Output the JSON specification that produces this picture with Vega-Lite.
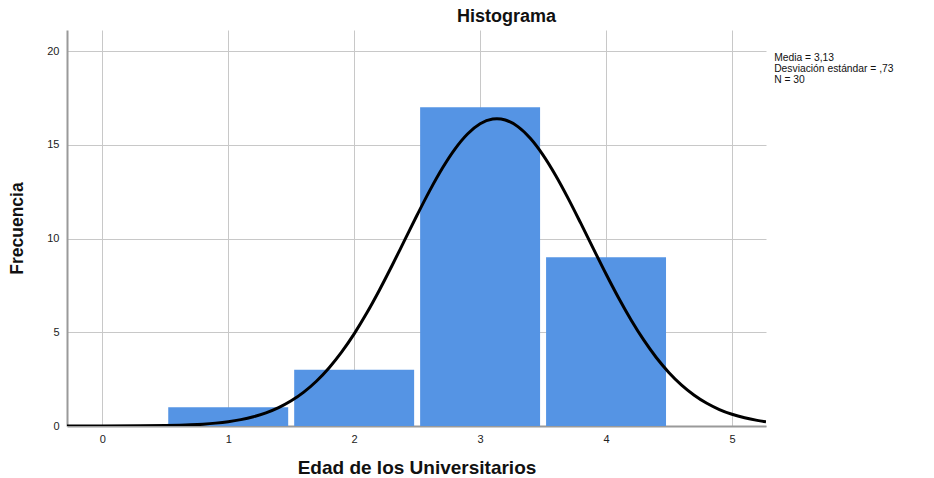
{
  "$schema": "https://vega.github.io/schema/vega-lite/v6.json",
  "width": 699,
  "height": 396,
  "autosize": {"type": "none"},
  "padding": {"left": 67, "top": 30, "right": 168, "bottom": 52},
  "background": "white",
  "config": {
    "font": "Liberation Sans",
    "view": {"stroke": null},
    "axis": {
      "grid": true,
      "gridColor": "#c8c8c8",
      "gridWidth": 1,
      "ticks": false,
      "domainColor": "#9a9a9a",
      "domainWidth": 2,
      "labelFont": "Liberation Sans",
      "labelFontSize": 11,
      "labelColor": "#222",
      "titleFont": "Liberation Sans",
      "titleFontWeight": "bold",
      "titleColor": "#111"
    }
  },
  "title": {
    "text": "Histograma",
    "font": "Liberation Sans",
    "fontSize": 18,
    "fontWeight": "bold",
    "color": "#111",
    "anchor": "middle",
    "dx": 90,
    "offset": 4
  },
  "datasets": {
    "bars": [
      {"start": 0.5, "end": 1.5, "count": 1},
      {"start": 1.5, "end": 2.5, "count": 3},
      {"start": 2.5, "end": 3.5, "count": 17},
      {"start": 3.5, "end": 4.5, "count": 9}
    ],
    "curve": [
      {"x": -0.28, "y": 0.0003},
      {"x": 0.0, "y": 0.0016},
      {"x": 0.3, "y": 0.0088},
      {"x": 0.5, "y": 0.0246},
      {"x": 0.7, "y": 0.0636},
      {"x": 0.8, "y": 0.0995},
      {"x": 0.9, "y": 0.153},
      {"x": 1.0, "y": 0.230},
      {"x": 1.1, "y": 0.340},
      {"x": 1.2, "y": 0.493},
      {"x": 1.3, "y": 0.702},
      {"x": 1.4, "y": 0.980},
      {"x": 1.5, "y": 1.344},
      {"x": 1.6, "y": 1.809},
      {"x": 1.7, "y": 2.388},
      {"x": 1.8, "y": 3.096},
      {"x": 1.9, "y": 3.938},
      {"x": 2.0, "y": 4.915},
      {"x": 2.1, "y": 6.023},
      {"x": 2.2, "y": 7.242},
      {"x": 2.3, "y": 8.546},
      {"x": 2.4, "y": 9.898},
      {"x": 2.5, "y": 11.252},
      {"x": 2.6, "y": 12.552},
      {"x": 2.7, "y": 13.743},
      {"x": 2.8, "y": 14.767},
      {"x": 2.9, "y": 15.572},
      {"x": 3.0, "y": 16.118},
      {"x": 3.1, "y": 16.371},
      {"x": 3.1333, "y": 16.388},
      {"x": 3.2, "y": 16.320},
      {"x": 3.3, "y": 15.967},
      {"x": 3.4, "y": 15.331},
      {"x": 3.5, "y": 14.448},
      {"x": 3.6, "y": 13.361},
      {"x": 3.7, "y": 12.129},
      {"x": 3.8, "y": 10.803},
      {"x": 3.9, "y": 9.446},
      {"x": 4.0, "y": 8.104},
      {"x": 4.1, "y": 6.824},
      {"x": 4.2, "y": 5.641},
      {"x": 4.3, "y": 4.576},
      {"x": 4.4, "y": 3.641},
      {"x": 4.5, "y": 2.845},
      {"x": 4.6, "y": 2.181},
      {"x": 4.7, "y": 1.642},
      {"x": 4.8, "y": 1.212},
      {"x": 4.9, "y": 0.879},
      {"x": 5.0, "y": 0.625},
      {"x": 5.1, "y": 0.436},
      {"x": 5.2, "y": 0.299},
      {"x": 5.27, "y": 0.227}
    ],
    "stats": [
      {"label": "Media = 3,13"}
    ]
  },
  "layer": [
    {
      "data": {"name": "bars"},
      "mark": {"type": "rect", "color": "#5594E4", "xOffset": 3, "x2Offset": -3},
      "encoding": {
        "x": {
          "field": "start",
          "type": "quantitative",
          "scale": {"domain": [-0.28, 5.27], "nice": false, "zero": false},
          "axis": {
            "title": "Edad de los Universitarios",
            "titleFontSize": 19,
            "values": [0, 1, 2, 3, 4, 5],
            "format": "d",
            "labelPadding": 7,
            "titlePadding": 14
          }
        },
        "x2": {"field": "end"},
        "y": {
          "field": "count",
          "type": "quantitative",
          "scale": {"domain": [0, 21.12], "nice": false},
          "axis": {
            "title": "Frecuencia",
            "titleFontSize": 17.5,
            "values": [0, 5, 10, 15, 20],
            "labelPadding": 8,
            "titlePadding": 20
          }
        },
        "y2": {"datum": 0}
      }
    },
    {
      "data": {"name": "curve"},
      "mark": {"type": "line", "color": "black", "strokeWidth": 3, "interpolate": "monotone", "clip": true},
      "encoding": {
        "x": {"field": "x", "type": "quantitative"},
        "y": {"field": "y", "type": "quantitative"}
      }
    },
    {
      "data": {"name": "stats"},
      "mark": {
        "type": "text",
        "align": "left",
        "baseline": "top",
        "fontSize": 10.3,
        "lineHeight": 11,
        "color": "#111",
        "font": "Liberation Sans",
        "text": ["Media = 3,13", "Desviación estándar = ,73", "N = 30"]
      },
      "encoding": {
        "x": {"datum": 5.335},
        "y": {"datum": 19.9}
      }
    }
  ]
}
